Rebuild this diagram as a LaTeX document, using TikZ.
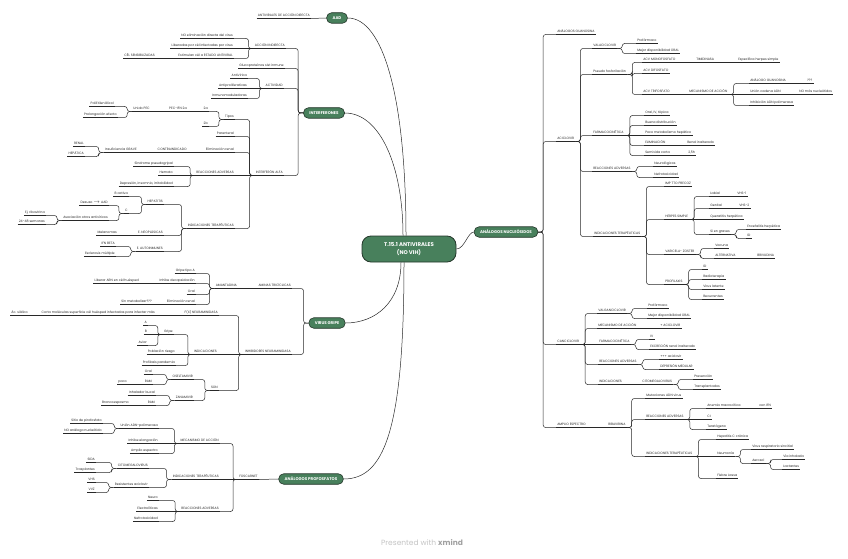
\documentclass[tikz,border=0pt]{standalone}
\usepackage{fontspec}
\setmainfont{Poppins}
\definecolor{verde}{RGB}{72,128,92}
\definecolor{verdeosc}{RGB}{36,54,42}
\definecolor{linea}{RGB}{40,40,40}
\definecolor{gris}{RGB}{195,195,195}
\definecolor{grisosc}{RGB}{160,160,160}

\begin{document}
\begin{tikzpicture}[x=1pt, y=-1pt, line width=0.5pt,
  every edge/.style={draw=linea, line width=0.5pt},
  hoja/.style={inner xsep=1pt, inner ysep=0.7pt, text height=2.4pt, text depth=0.7pt,
    font=\fontsize{3.25}{3.7}\selectfont, text=linea,
    append after command={(\tikzlastnode.south west) edge (\tikzlastnode.south east)}},
  der/.style={hoja, anchor=west},
  izq/.style={hoja, anchor=east},
  tema/.style={fill=verde, draw=verdeosc, line width=0.6pt, rounded corners=5pt,
    minimum height=10.5pt, inner xsep=6pt, inner ysep=0pt, text height=2.9pt, text depth=0pt,
    text=white, font=\fontsize{4}{4.5}\selectfont\bfseries},
  raiz/.style={fill=verde, draw=verdeosc, line width=0.8pt, rounded corners=9pt,
    minimum width=94pt, minimum height=26pt, align=center, text=white,
    font=\fontsize{5.4}{8.2}\selectfont\bfseries},
  rb/.style={rounded corners=2.5pt, to path={-- ++(5pt,0) |- (\tikztotarget)}},
  lb/.style={rounded corners=2.5pt, to path={-- ++(-5pt,0) |- (\tikztotarget)}}]

\useasboundingbox (0,0) rectangle (848,559);

% Raiz y temas
\path
  node[raiz] (raiz) at (409,249) {T.15.1 ANTIVIRALES\\(NO VIH)}
  node[tema] (aad) at (337,18) {AAD}
  node[tema] (interf) at (324,113) {INTERFERONES}
  node[tema] (gripe) at (327,323) {VIRUS GRIPE}
  node[tema] (profos) at (311,479) {ANÁLOGOS PROFOSFATOS}
  node[tema] (nucleo) at (506,232) {ANÁLOGOS NUCLEÓSIDOS};

% AAD
\path node[izq] (aadd) at (311,16) {ANTIVIRALES DE ACCIÓN DIRECTA};

% Interferones
\path
  node[izq] (accind) at (286,46) {ACCIÓN INDIRECTA}
  node[izq] (noelim) at (234,36) {NO eliminación directa del virus}
  node[izq] (liber) at (234,46) {Liberadas por cél infectadas por virus}
  node[izq] (estim) at (234,56) {Estimulan cél a ESTADO ANTIVIRAL}
  node[izq] (celsens) at (156,56) {CÉL SENSIBILIZADAS}
  node[izq] (gluco) at (285,66) {Glucoproteínas sist inmune}
  node[izq] (activ) at (284,86) {ACTIVIDAD}
  node[izq] (antivir) at (248,76) {Antivírica}
  node[izq] (antiprol) at (248,86) {Antiproliferativas}
  node[izq] (inmuno) at (248,96) {Inmunomoduladoras}
  node[izq] (alfa) at (284,173) {INTERFERÓN ALFA}
  node[izq] (tipos) at (235,117) {Tipos}
  node[izq] (t2a) at (209,109) {2a}
  node[izq] (pec) at (188,109) {PEC-IFN 2a}
  node[izq] (unido) at (151,109) {Unido PEC}
  node[izq] (peg) at (115,104) {PoliEtilenGlicol}
  node[izq] (prolong) at (118,115) {Prolongación efecto}
  node[izq] (t2b) at (209,124) {2b}
  node[izq] (parent) at (235,134) {Parenteral}
  node[izq] (elimren) at (235,150) {Eliminación renal}
  node[izq] (contra) at (188,150) {CONTRAINDICADO}
  node[izq] (insuf) at (138,150) {Insuficiencia GRAVE}
  node[izq] (renal) at (85,144) {RENAL}
  node[izq] (hepat) at (85,154) {HEPÁTICA}
  node[izq] (reacadv) at (235,173) {REACCIONES ADVERSAS}
  node[izq] (sindr) at (174,164) {Síndrome pseudogripal}
  node[izq] (hemato) at (174,173) {Hemato}
  node[izq] (depres) at (174,184) {Depresión, insomnio, irritabilidad}
  node[izq] (indter) at (235,226) {INDICACIONES TERAPÉUTICAS}
  node[izq] (hepatitis) at (164,202) {HEPATITIS}
  node[izq] (bact) at (129,194) {B activa}
  node[izq] (hc) at (129,211) {C}
  node[izq] (desuso) at (109,203) {Desuso $\rightarrow$ AAD}
  node[izq] (asoc) at (109,218) {Asociación otros antivíricos}
  node[izq] (ribav) at (46,213) {Ej. ribavirina}
  node[izq] (semanas) at (46,222) {24-48 semanas}
  node[izq] (neopl) at (164,233) {E. NEOPLÁSICAS}
  node[izq] (melan) at (118,233) {Melanomas}
  node[izq] (autoin) at (164,249) {E. AUTOINMUNES}
  node[izq] (ifnb) at (116,244) {IFN BETA}
  node[izq] (escler) at (116,254) {Esclerosis múltiple};

% Virus gripe
\path
  node[izq] (aminas) at (292,286) {AMINAS TRICÍCLICAS}
  node[izq] (amant) at (238,286) {AMANTADINA}
  node[izq] (gripea) at (196,271) {Gripe tipo A}
  node[izq] (inhdec) at (196,281) {Inhibe decapsidación}
  node[izq] (libarn) at (140,281) {Liberar ARN en cél huésped}
  node[izq] (oral1) at (196,292) {Oral}
  node[izq] (elimren2) at (196,302) {Eliminación renal}
  node[izq] (sinmet) at (153,302) {Sin metabolizar???}
  node[izq] (inhneu) at (292,352) {INHIBIDORES NEURAMINIDASA}
  node[izq] (fxneu) at (219,313) {F(X) NEURAMINIDASA}
  node[izq] (corta) at (156,313) {Corta moléculas superficie cél huésped infectadas para infectar más}
  node[izq] (acsial) at (29,313) {Ác. siálico}
  node[izq] (indic) at (218,352) {INDICACIONES}
  node[izq] (gripe2) at (174,332) {Gripe}
  node[izq] (ga) at (148,323) {A}
  node[izq] (gb) at (148,332) {B}
  node[izq] (gaviar) at (148,343) {Aviar}
  node[izq] (pobl) at (176,352) {Población riesgo}
  node[izq] (profil) at (176,363) {Profilaxis pandemia}
  node[izq] (son) at (219,388) {SON}
  node[izq] (osel) at (194,377) {OSELTAMIVIR}
  node[izq] (oral2) at (153,372) {Oral}
  node[izq] (ram1) at (153,382) {RAM}
  node[izq] (poco) at (128,382) {poco}
  node[izq] (zana) at (194,398) {ZANAMIVIR}
  node[izq] (inhal) at (156,393) {Inhalador bucal}
  node[izq] (ram2) at (156,403) {RAM}
  node[izq] (bronco) at (130,403) {Broncoespasmo};

% Analogos profosfatos
\path
  node[izq] (fosc) at (259,477) {FOSCARNET}
  node[izq] (mecan) at (220,441) {MECANISMO DE ACCIÓN}
  node[izq] (union) at (159,426) {Unión ADN-polimerasa}
  node[izq] (sitio) at (103,421) {Sitio de pirofosfato}
  node[izq] (noanal) at (103,431) {NO análogo nucleótido}
  node[izq] (inhelong) at (159,441) {Inhibe elongación}
  node[izq] (amplio) at (159,451) {Amplio espectro}
  node[izq] (indter2) at (220,477) {INDICACIONES TERAPÉUTICAS}
  node[izq] (cmv) at (149,466) {CITOMEGALOVIRUS}
  node[izq] (sida) at (96,460) {SIDA}
  node[izq] (trasp) at (96,470) {Trasplantes}
  node[izq] (resist) at (149,485) {Resistentes aciclovir}
  node[izq] (vhs) at (96,480) {VHS}
  node[izq] (vvz) at (96,490) {VVZ}
  node[izq] (reacadv2) at (220,509) {REACCIONES ADVERSAS}
  node[izq] (neuro) at (159,498) {Neuro}
  node[izq] (electro) at (159,509) {Electrolíticas}
  node[izq] (nefro) at (159,519) {Nefrotoxicidad};

% Analogos nucleosidos
\path
  node[der] (guano) at (556,32) {ANÁLOGOS GUANOSINA}
  node[der] (aciclo) at (556,139) {ACICLOVIR}
  node[der] (valaci) at (592,46) {VALACICLOVIR}
  node[der] (profarm1) at (636,41) {Profármaco}
  node[der] (mejor1) at (636,51) {Mejor disponibilidad ORAL}
  node[der] (pseudo) at (592,72) {Pseudo fosforilación}
  node[der] (acvmono) at (642,60) {ACV MONOFOSFATO}
  node[der] (timid) at (695,60) {TIMIDINASA}
  node[der] (especif) at (737,60) {Específica herpes simple}
  node[der] (acvdi) at (642,71) {ACV DIFOSFATO}
  node[der] (acvtri) at (642,92) {ACV TRIFOSFATO}
  node[der] (mecan2) at (688,92) {MECANISMO DE ACCIÓN}
  node[der] (anaguan) at (749,81) {ANÁLOGO GUANOSINA}
  node[der] (interr) at (806,81) {???}
  node[der] (unionad) at (749,92) {Unión cadena ADN}
  node[der] (nomas) at (798,92) {NO más nucleótidos}
  node[der] (inhadn) at (749,103) {Inhibición ADN polimerasa}
  node[der] (farmaco) at (592,133) {FARMACOCINÉTICA}
  node[der] (oraliv) at (644,113) {Oral, IV, tópica}
  node[der] (buena) at (644,123) {Buena distribución}
  node[der] (poco2) at (644,133) {Poco metabolismo hepático}
  node[der] (elimin) at (644,143) {ELIMINACIÓN}
  node[der] (renalin) at (686,143) {Renal inalterado}
  node[der] (semiv) at (644,153) {Semivida corta}
  node[der] (h25) at (687,153) {2,5h}
  node[der] (reacadv3) at (592,169) {REACCIONES ADVERSAS}
  node[der] (neurol) at (653,164) {Neurológicos}
  node[der] (nefro2) at (653,175) {Nefrotoxicidad}
  node[der] (indter3) at (593,234) {INDICACIONES TERAPÉUTICAS}
  node[der] (imptto) at (664,184) {IMP TTO PRECOZ}
  node[der] (herpes) at (664,217) {HERPES SIMPLE}
  node[der] (labial) at (709,194) {Labial}
  node[der] (vhs1) at (736,194) {VHS-1}
  node[der] (genital) at (709,206) {Genital}
  node[der] (vhs2) at (738,206) {VHS-2}
  node[der] (querat) at (709,217) {Queratitis herpética}
  node[der] (sigrav) at (709,232) {Si en graves}
  node[der] (encef) at (746,227) {Encefalitis herpética}
  node[der] (id1) at (746,236) {ID}
  node[der] (varic) at (664,252) {VARICELA- ZOSTER}
  node[der] (vacuna) at (714,246) {Vacuna}
  node[der] (altern) at (714,256) {ALTERNATIVA}
  node[der] (brivu) at (756,256) {BRIVUDINA}
  node[der] (profi) at (664,282) {PROFILAXIS}
  node[der] (id2) at (702,267) {ID}
  node[der] (radio) at (702,277) {Radioterapia}
  node[der] (latente) at (702,287) {Virus latente}
  node[der] (recur) at (702,297) {Recurrentes}
  node[der] (ganci) at (556,342) {CANCICLOVIR}
  node[der] (valganci) at (597,311) {VALGANCICLOVIR}
  node[der] (profarm2) at (647,306) {Profármaco}
  node[der] (mejor2) at (647,316) {Mejor disponibilidad ORAL}
  node[der] (mecan3) at (597,326) {MECANISMO DE ACCIÓN}
  node[der] (masaci) at (659,326) {+ ACICLOVIR}
  node[der] (farmaco2) at (598,342) {FARMACOCINÉTICA}
  node[der] (iv) at (649,337) {IV}
  node[der] (excrec) at (649,347) {EXCRECIÓN renal inalterado}
  node[der] (reacadv4) at (598,362) {REACCIONES ADVERSAS}
  node[der] (aciclo3) at (659,357) {+++ aciclovir}
  node[der] (depmed) at (659,367) {DEPRESIÓN MEDULAR}
  node[der] (indic3) at (598,382) {INDICACIONES}
  node[der] (cmv2) at (641,382) {CITOMEGALOVIRUS}
  node[der] (prev) at (693,377) {Prevención}
  node[der] (transpl) at (693,387) {Transplantados}
  node[der] (amplio2) at (556,425) {AMPLIO ESPECTRO}
  node[der] (ribavi) at (607,425) {RIBAVIRINA}
  node[der] (mutac) at (645,396) {Mutaciones ADN virus}
  node[der] (reacadv5) at (645,417) {REACCIONES ADVERSAS}
  node[der] (anemia) at (706,406) {Anemia macrocítica}
  node[der] (conifn) at (758,406) {con IFN}
  node[der] (ci) at (706,417) {CI}
  node[der] (terat) at (706,427) {Teratógeno}
  node[der] (indter4) at (645,454) {INDICACIONES TERAPÉUTICAS}
  node[der] (hepc) at (716,437) {Hepatitis C crónica}
  node[der] (neumo) at (716,454) {Neumonía}
  node[der] (vrs) at (751,447) {Virus respiratorio sincitial}
  node[der] (aerosol) at (751,461) {Aerosol}
  node[der] (viainh) at (782,457) {Vía inhalada}
  node[der] (lact) at (782,467) {Lactantes}
  node[der] (fiebre) at (716,476) {Fiebre Lassa};

\node[font=\fontsize{7.5}{9}\selectfont, text=gris] (marca) at (422,543)
  {Presented with \textcolor{grisosc}{\bfseries xmind}};

% Raiz a temas
\draw[linea] ([xshift=-3pt]raiz.north) .. controls +(0,-140) and +(35,0) .. (aad.east);
\draw[linea] ([xshift=-6pt]raiz.north) .. controls +(0,-70) and +(35,0) .. (interf.east);
\draw[linea] ([xshift=-8pt]raiz.south) .. controls +(0,40) and +(30,0) .. (gripe.east);
\draw[linea] ([xshift=-5pt]raiz.south) .. controls +(0,170) and +(40,0) .. (profos.east);
\draw[linea] (raiz.east) .. controls +(8,0) and +(-6,0) .. (nucleo.west);

% Lado izquierdo
\path (aad.west) edge (aadd.south east);
\path (interf.west) edge[lb] (accind.south east) edge[lb] (gluco.south east)
  edge[lb] (activ.south east) edge[lb] (alfa.south east);
\path (accind.south west) edge[lb] (noelim.south east) edge (liber.south east) edge[lb] (estim.south east);
\path (estim.south west) edge (celsens.south east);
\path (activ.south west) edge[lb] (antivir.south east) edge (antiprol.south east) edge[lb] (inmuno.south east);
\path (alfa.south west) edge[lb] (tipos.south east) edge[lb] (parent.south east)
  edge[lb] (elimren.south east) edge (reacadv.south east) edge[lb] (indter.south east);
\path (tipos.south west) edge[lb] (t2a.south east) edge[lb] (t2b.south east);
\path (t2a.south west) edge (pec.south east);
\path (pec.south west) edge (unido.south east);
\path (unido.south west) edge[lb] (peg.south east) edge[lb] (prolong.south east);
\path (elimren.south west) edge (contra.south east);
\path (contra.south west) edge (insuf.south east);
\path (insuf.south west) edge[lb] (renal.south east) edge[lb] (hepat.south east);
\path (reacadv.south west) edge[lb] (sindr.south east) edge (hemato.south east) edge[lb] (depres.south east);
\path (indter.south west) edge[lb] (hepatitis.south east) edge[lb] (neopl.south east) edge[lb] (autoin.south east);
\path (hepatitis.south west) edge[lb] (bact.south east) edge[lb] (hc.south east);
\path (hc.south west) edge[lb] (desuso.south east) edge[lb] (asoc.south east);
\path (asoc.south west) edge[lb] (ribav.south east) edge[lb] (semanas.south east);
\path (neopl.south west) edge (melan.south east);
\path (autoin.south west) edge[lb] (ifnb.south east) edge[lb] (escler.south east);

\path (gripe.west) edge[lb] (aminas.south east) edge[lb] (inhneu.south east);
\path (aminas.south west) edge (amant.south east);
\path (amant.south west) edge[lb] (gripea.south east) edge[lb] (inhdec.south east)
  edge[lb] (oral1.south east) edge[lb] (elimren2.south east);
\path (inhdec.south west) edge (libarn.south east);
\path (elimren2.south west) edge (sinmet.south east);
\path (inhneu.south west) edge[lb] (fxneu.south east) edge (indic.south east) edge[lb] (son.south east);
\path (fxneu.south west) edge (corta.south east);
\path (corta.south west) edge (acsial.south east);
\path (indic.south west) edge[lb] (gripe2.south east) edge (pobl.south east) edge[lb] (profil.south east);
\path (gripe2.south west) edge[lb] (ga.south east) edge (gb.south east) edge[lb] (gaviar.south east);
\path (son.south west) edge[lb] (osel.south east) edge[lb] (zana.south east);
\path (osel.south west) edge[lb] (oral2.south east) edge[lb] (ram1.south east);
\path (ram1.south west) edge (poco.south east);
\path (zana.south west) edge[lb] (inhal.south east) edge[lb] (ram2.south east);
\path (ram2.south west) edge (bronco.south east);

\path (profos.west) edge (fosc.south east);
\path (fosc.south west) edge[lb] (mecan.south east) edge (indter2.south east) edge[lb] (reacadv2.south east);
\path (mecan.south west) edge[lb] (union.south east) edge (inhelong.south east) edge[lb] (amplio.south east);
\path (union.south west) edge[lb] (sitio.south east) edge[lb] (noanal.south east);
\path (indter2.south west) edge[lb] (cmv.south east) edge[lb] (resist.south east);
\path (cmv.south west) edge[lb] (sida.south east) edge[lb] (trasp.south east);
\path (resist.south west) edge[lb] (vhs.south east) edge[lb] (vvz.south east);
\path (reacadv2.south west) edge[lb] (neuro.south east) edge (electro.south east) edge[lb] (nefro.south east);

% Lado derecho
\path (nucleo.east) edge[rb] (guano.south west) edge[rb] (aciclo.south west)
  edge[rb] (ganci.south west) edge[rb] (amplio2.south west);
\path (aciclo.south east) edge[rb] (valaci.south west) edge[rb] (pseudo.south west)
  edge[rb] (farmaco.south west) edge[rb] (reacadv3.south west) edge[rb] (indter3.south west);
\path (valaci.south east) edge[rb] (profarm1.south west) edge[rb] (mejor1.south west);
\path (pseudo.south east) edge[rb] (acvmono.south west) edge[rb] (acvdi.south west) edge[rb] (acvtri.south west);
\path (acvmono.south east) edge (timid.south west);
\path (timid.south east) edge (especif.south west);
\path (acvtri.south east) edge (mecan2.south west);
\path (mecan2.south east) edge[rb] (anaguan.south west) edge (unionad.south west) edge[rb] (inhadn.south west);
\path (anaguan.south east) edge (interr.south west);
\path (unionad.south east) edge (nomas.south west);
\path (farmaco.south east) edge[rb] (oraliv.south west) edge[rb] (buena.south west) edge (poco2.south west)
  edge[rb] (elimin.south west) edge[rb] (semiv.south west);
\path (elimin.south east) edge (renalin.south west);
\path (semiv.south east) edge (h25.south west);
\path (reacadv3.south east) edge[rb] (neurol.south west) edge[rb] (nefro2.south west);
\path (indter3.south east) edge[rb] (imptto.south west) edge[rb] (herpes.south west)
  edge[rb] (varic.south west) edge[rb] (profi.south west);
\path (herpes.south east) edge[rb] (labial.south west) edge[rb] (genital.south west)
  edge (querat.south west) edge[rb] (sigrav.south west);
\path (labial.south east) edge (vhs1.south west);
\path (genital.south east) edge (vhs2.south west);
\path (sigrav.south east) edge[rb] (encef.south west) edge[rb] (id1.south west);
\path (varic.south east) edge[rb] (vacuna.south west) edge[rb] (altern.south west);
\path (altern.south east) edge (brivu.south west);
\path (profi.south east) edge[rb] (id2.south west) edge[rb] (radio.south west)
  edge[rb] (latente.south west) edge[rb] (recur.south west);
\path (ganci.south east) edge[rb] (valganci.south west) edge[rb] (mecan3.south west)
  edge (farmaco2.south west) edge[rb] (reacadv4.south west) edge[rb] (indic3.south west);
\path (valganci.south east) edge[rb] (profarm2.south west) edge[rb] (mejor2.south west);
\path (mecan3.south east) edge (masaci.south west);
\path (farmaco2.south east) edge[rb] (iv.south west) edge[rb] (excrec.south west);
\path (reacadv4.south east) edge[rb] (aciclo3.south west) edge[rb] (depmed.south west);
\path (indic3.south east) edge (cmv2.south west);
\path (cmv2.south east) edge[rb] (prev.south west) edge[rb] (transpl.south west);
\path (amplio2.south east) edge (ribavi.south west);
\path (ribavi.south east) edge[rb] (mutac.south west) edge[rb] (reacadv5.south west) edge[rb] (indter4.south west);
\path (reacadv5.south east) edge[rb] (anemia.south west) edge (ci.south west) edge[rb] (terat.south west);
\path (anemia.south east) edge (conifn.south west);
\path (indter4.south east) edge[rb] (hepc.south west) edge (neumo.south west) edge[rb] (fiebre.south west);
\path (neumo.south east) edge[rb] (vrs.south west) edge[rb] (aerosol.south west);
\path (aerosol.south east) edge[rb] (viainh.south west) edge[rb] (lact.south west);

\end{tikzpicture}
\end{document}
